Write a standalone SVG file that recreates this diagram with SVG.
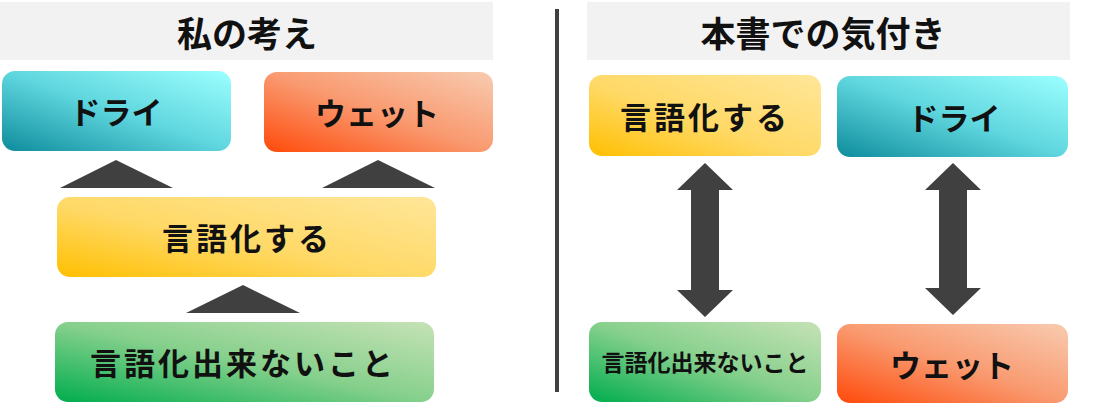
<svg xmlns="http://www.w3.org/2000/svg" width="1094" height="409" viewBox="0 0 1094 409">
<style>
text{font-family:"Noto Sans CJK JP","Noto Sans",sans-serif;font-weight:bold;fill:#111;text-anchor:middle;dominant-baseline:central}
.t{font-size:35px}
.n{font-size:31px;letter-spacing:3px}
.k{font-size:31px;letter-spacing:0px}
.s{font-size:23px}
.arr{fill:#404040}
</style>
<defs>
<linearGradient id="gDry" x1="0" y1="1" x2="1" y2="0"><stop offset="0" stop-color="#0e8c9c"/><stop offset="0.5" stop-color="#5fd6de"/><stop offset="1" stop-color="#9cffff"/></linearGradient>
<linearGradient id="gWet" x1="0" y1="1" x2="1" y2="0"><stop offset="0" stop-color="#ff4a0a"/><stop offset="0.5" stop-color="#f99a70"/><stop offset="1" stop-color="#f8cbb0"/></linearGradient>
<linearGradient id="gYel" x1="0" y1="1" x2="1" y2="0"><stop offset="0" stop-color="#ffbf00"/><stop offset="0.45" stop-color="#ffd966"/><stop offset="1" stop-color="#ffe699"/></linearGradient>
<linearGradient id="gGrn" x1="0" y1="1" x2="1" y2="0"><stop offset="0" stop-color="#00ad4e"/><stop offset="0.5" stop-color="#86d08c"/><stop offset="1" stop-color="#c6e2b6"/></linearGradient>
</defs>
<g id="title-left"><rect x="0" y="2" width="493" height="58" fill="#f2f2f2"/><text class="t" x="247" y="31">私の考え</text></g>
<g id="title-right"><rect x="587" y="2" width="483" height="58" fill="#f2f2f2"/><text class="t" x="823" y="31">本書での気付き</text></g>
<g id="divider"><rect x="555" y="9" width="4" height="383" fill="#404040"/></g>
<g id="l-dry"><rect x="2" y="71" width="229" height="80" rx="13" fill="url(#gDry)"/><text class="k" x="116" y="110">ドライ</text></g>
<g id="l-wet"><rect x="264" y="72" width="229" height="80" rx="13" fill="url(#gWet)"/><text class="k" x="377" y="111">ウェット</text></g>
<g id="l-gen"><rect x="57" y="197" width="379" height="80" rx="13" fill="url(#gYel)"/><text class="n" x="247" y="236">言語化する</text></g>
<g id="l-fukano"><rect x="55" y="322" width="379" height="80" rx="13" fill="url(#gGrn)"/><text class="n" x="243" y="361">言語化出来ないこと</text></g>
<g id="r-gen"><rect x="589" y="75" width="232" height="81" rx="13" fill="url(#gYel)"/><text class="n" x="705" y="115">言語化する</text></g>
<g id="r-dry"><rect x="837" y="76" width="231" height="81" rx="13" fill="url(#gDry)"/><text class="k" x="954" y="116">ドライ</text></g>
<g id="r-fukano"><rect x="589" y="322" width="232" height="80" rx="13" fill="url(#gGrn)"/><text class="s" x="705" y="361">言語化出来ないこと</text></g>
<g id="r-wet"><rect x="837" y="324" width="231" height="79" rx="13" fill="url(#gWet)"/><text class="k" x="952" y="363">ウェット</text></g>
<g id="connectors">
<polygon class="arr" points="116,160 173,188 60,188"/>
<polygon class="arr" points="378,160 435,188 322,188"/>
<polygon class="arr" points="243,285 300,313 186,313"/>
<polygon class="arr" points="705,163 733,190 719,190 719,290 733,290 705,317 677,290 691,290 691,190 677,190"/>
<polygon class="arr" points="953,163 981,190 967,190 967,288 981,288 953,315 925,288 939,288 939,190 925,190"/>
</g>
</svg>
